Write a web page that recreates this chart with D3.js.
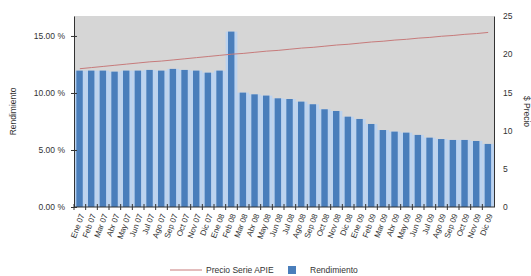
<!DOCTYPE html>
<html>
<head>
<meta charset="utf-8">
<script src="https://cdn.jsdelivr.net/npm/d3@7"></script>
<style>
  body { margin: 0; background: #fff; }
  svg { font-family: "Liberation Sans", Arial, sans-serif; }
  text { fill: #333; }
</style>
</head>
<body>
<svg width="531" height="276"></svg>
<script>
var periodos = ['Ene 07','Feb 07','Mar 07','Abr 07','May 07','Jun 07','Jul 07','Ago 07','Sep 07','Oct 07','Nov 07','Dic 07',
                'Ene 08','Feb 08','Mar 08','Abr 08','May 08','Jun 08','Jul 08','Ago 08','Sep 08','Oct 08','Nov 08','Dic 08',
                'Ene 09','Feb 09','Mar 09','Abr 09','May 09','Jun 09','Jul 09','Ago 09','Sep 09','Oct 09','Nov 09','Dic 09'];
var rendimiento = [11.96, 11.96, 11.96, 11.87, 11.96, 11.96, 12.02, 11.96, 12.11, 12.02, 11.96, 11.78,
                   11.96, 15.38, 10.03, 9.88, 9.77, 9.53, 9.47, 9.24, 9.01, 8.57, 8.42, 7.92,
                   7.72, 7.28, 6.75, 6.61, 6.52, 6.32, 6.08, 5.96, 5.88, 5.88, 5.79, 5.53];
var precio = [18.1, 18.25, 18.4, 18.55, 18.7, 18.85, 19.0, 19.1, 19.25, 19.4, 19.55, 19.7,
              19.85, 20.0, 20.1, 20.25, 20.4, 20.5, 20.65, 20.8, 20.9, 21.05, 21.2, 21.3,
              21.45, 21.6, 21.7, 21.85, 21.95, 22.1, 22.2, 22.35, 22.45, 22.6, 22.7, 22.85];
var leftTicks = [0, 5, 10, 15];
var rightTicks = [0, 5, 10, 15, 20, 25];

var mLeft = 74, mRight = 494, mTop = 16, mBottom = 207;
var svg = d3.select('svg');

var x = d3.scaleBand().domain(periodos).range([mLeft, mRight]).padding(0);
var yL = d3.scaleLinear().domain([0, 16.75]).range([mBottom, mTop]);
var yR = d3.scaleLinear().domain([0, 25]).range([mBottom, mTop]);

// fondo del area de grafico
svg.append('rect')
    .attr('x', mLeft).attr('y', mTop)
    .attr('width', mRight - mLeft).attr('height', mBottom - mTop)
    .attr('fill', '#d6d6d6');

// barras: brillo claro + cuerpo azul
var bw = x.bandwidth();
svg.append('g').selectAll('rect')
    .data(rendimiento)
  .enter().append('rect')
    .attr('x', (d, i) => x(periodos[i]))
    .attr('y', d => yL(d))
    .attr('width', bw)
    .attr('height', d => mBottom - yL(d))
    .attr('fill', '#bcd3ef');

svg.append('g').selectAll('rect')
    .data(rendimiento)
  .enter().append('rect')
    .attr('x', (d, i) => x(periodos[i]) + bw * 0.2)
    .attr('y', d => yL(d))
    .attr('width', bw * 0.55)
    .attr('height', d => mBottom - yL(d))
    .attr('fill', '#4a7ebb');

// linea de precio
var line = d3.line()
    .x((d, i) => x(periodos[i]) + bw / 2)
    .y(d => yR(d));
svg.append('path')
    .datum(precio)
    .attr('d', line)
    .attr('fill', 'none')
    .attr('stroke', '#c77b7b')
    .attr('stroke-width', 1);

// ejes
var axisL = d3.axisLeft(yL).tickValues(leftTicks).tickSize(0).tickPadding(9)
    .tickFormat(d => d.toFixed(2) + ' %');
var gL = svg.append('g').attr('transform', 'translate(' + mLeft + ',0)').call(axisL);
gL.select('.domain').attr('stroke', '#333');
gL.selectAll('text').attr('font-size', 8.5).attr('fill', '#333');
gL.selectAll('.tick').append('line').attr('x1', -3).attr('x2', 3).attr('stroke', '#333');

var axisR = d3.axisRight(yR).tickValues(rightTicks).tickSize(0).tickPadding(9);
var gR = svg.append('g').attr('transform', 'translate(' + mRight + ',0)').call(axisR);
gR.select('.domain').attr('stroke', '#333');
gR.selectAll('text').attr('font-size', 8.5).attr('fill', '#333');

var gB = svg.append('g').attr('transform', 'translate(0,' + mBottom + ')');
gB.append('line').attr('x1', mLeft).attr('x2', mRight).attr('stroke', '#333');
gB.selectAll('.tk')
    .data(periodos)
  .enter().append('line')
    .attr('x1', d => x(d)).attr('x2', d => x(d))
    .attr('y1', -3).attr('y2', 3)
    .attr('stroke', '#333');
gB.selectAll('.lbl')
    .data(periodos)
  .enter().append('text')
    .attr('transform', d => 'translate(' + (x(d) + bw / 2 + 2) + ',7) rotate(-70)')
    .attr('text-anchor', 'end')
    .attr('dy', '0.35em')
    .attr('font-size', 8)
    .text(d => d);

// titulos de ejes
svg.append('text')
    .attr('transform', 'translate(16,' + ((mTop + mBottom) / 2) + ') rotate(-90)')
    .attr('text-anchor', 'middle')
    .attr('font-size', 8.5)
    .text('Rendimiento');
svg.append('text')
    .attr('transform', 'translate(524,' + ((mTop + mBottom) / 2) + ') rotate(90)')
    .attr('text-anchor', 'middle')
    .attr('font-size', 8.5)
    .text('$ Precio');

// leyenda
var lg = svg.append('g').attr('transform', 'translate(0,270)');
lg.append('line').attr('x1', 170).attr('x2', 202).attr('stroke', '#c77b7b');
lg.append('text').attr('x', 206).attr('dy', '0.35em').attr('font-size', 8.5).text('Precio Serie APIE');
lg.append('rect').attr('x', 288).attr('y', -4).attr('width', 8).attr('height', 8).attr('fill', '#4a7ebb');
lg.append('text').attr('x', 310).attr('dy', '0.35em').attr('font-size', 8.5).text('Rendimiento');
</script>
</body>
</html>
